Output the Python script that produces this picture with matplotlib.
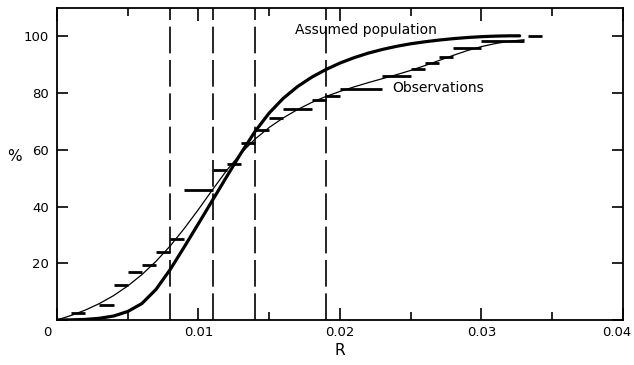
import matplotlib
matplotlib.use("Agg")
import matplotlib.pyplot as plt
import matplotlib.transforms as mtransforms
import numpy as np

# observation steps: start R, end R, cumulative percent
step_start = [0.001, 0.003, 0.004, 0.005, 0.006, 0.007, 0.008, 0.009, 0.011, 0.012,
              0.013, 0.014, 0.015, 0.016, 0.018, 0.019, 0.020, 0.023, 0.025, 0.026,
              0.027, 0.028, 0.030, 0.0333]
step_end = [0.002, 0.004, 0.005, 0.006, 0.007, 0.008, 0.009, 0.011, 0.012, 0.013,
            0.014, 0.015, 0.016, 0.018, 0.019, 0.020, 0.023, 0.025, 0.026, 0.027,
            0.028, 0.030, 0.033, 0.0343]
step_pct = [2.4, 5.3, 12.3, 16.9, 19.5, 24.0, 28.6, 46.0, 52.8, 55.0,
            62.3, 67.0, 71.1, 74.4, 77.4, 79.0, 81.6, 86.1, 88.6, 90.7,
            92.9, 95.8, 98.3, 100.0]

# smooth curve through observations (thin)
obs_r = [0.0, 0.001, 0.002, 0.003, 0.004, 0.005, 0.006, 0.007, 0.008, 0.009,
         0.010, 0.011, 0.012, 0.013, 0.014, 0.015, 0.016, 0.017, 0.018, 0.019,
         0.020, 0.021, 0.022, 0.023, 0.024, 0.025, 0.026, 0.027, 0.028, 0.029,
         0.030, 0.031, 0.032, 0.033]
obs_pct = [0.0, 1.6, 3.5, 5.8, 8.6, 12.0, 16.0, 20.7, 26.1, 32.3,
           39.0, 46.0, 52.8, 58.8, 63.8, 67.9, 71.3, 74.2, 76.7, 78.8,
           80.6, 82.2, 83.7, 85.1, 86.5, 88.0, 89.7, 91.5, 93.3, 95.0,
           96.4, 97.5, 98.3, 98.8]

# assumed population curve (thick)
pop_r = [0.0, 0.001, 0.002, 0.003, 0.004, 0.005, 0.006, 0.007, 0.008, 0.009,
         0.010, 0.011, 0.012, 0.013, 0.014, 0.015, 0.016, 0.017, 0.018, 0.019,
         0.020, 0.021, 0.022, 0.023, 0.024, 0.025, 0.026, 0.027, 0.028, 0.029,
         0.030, 0.031, 0.032, 0.0327]
pop_pct = [0.0, 0.05, 0.2, 0.6, 1.4, 3.0, 5.8, 10.8, 17.8, 25.8,
           34.0, 42.3, 50.6, 58.8, 66.5, 73.0, 78.2, 82.3, 85.6, 88.3,
           90.6, 92.5, 94.1, 95.4, 96.5, 97.4, 98.1, 98.7, 99.2, 99.6,
           99.9, 100.1, 100.2, 100.2]

vlines_r = [0.008, 0.011, 0.014, 0.019]

xticks = [0, 0.01, 0.02, 0.03, 0.04]
xtick_labels = ["", "0.01", "0.02", "0.03", "0.04"]
yticks = [0, 20, 40, 60, 80, 100]
ytick_labels = ["", "20", "40", "60", "80", "100"]


def main():
    fig = plt.figure(figsize=(6.34, 3.65), dpi=100)
    ax = fig.add_axes([0.0899, 0.1233, 0.8927, 0.8547])

    for r in vlines_r:
        ax.axvline(r, color="black", lw=1.2, dashes=(16, 4))

    ax.plot(pop_r, pop_pct, color="black", lw=2.3, solid_capstyle="round",
            solid_joinstyle="round")
    ax.plot(obs_r, obs_pct, color="black", lw=0.9)
    ax.hlines(step_pct, step_start, step_end, color="black", lw=2.0)

    ax.text(0.0168, 102.3, "Assumed population", fontsize=10, va="center", ha="left")
    ax.text(0.0237, 81.7, "Observations", fontsize=10, va="center", ha="left")

    ax.set_xlim(0, 0.04)
    ax.set_ylim(0, 110)
    ax.set_xticks(xticks)
    ax.set_xticklabels(xtick_labels)
    ax.set_xticks(np.arange(0.005, 0.04, 0.01), minor=True)
    ax.set_yticks(yticks)
    ax.set_yticklabels(ytick_labels)
    ax.tick_params(axis="x", which="major", direction="in", length=9, width=1.2,
                   top=True, labelsize=9.5, pad=4)
    ax.tick_params(axis="x", which="minor", direction="in", length=6, width=1.2, top=True)
    ax.tick_params(axis="y", which="major", direction="in", length=8, width=1.2,
                   right=True, labelsize=9.5, pad=6)
    # last x label sits a little left of its tick, as in the original
    last = ax.get_xticklabels()[-1]
    last.set_transform(last.get_transform() +
                       mtransforms.ScaledTranslation(-6 / 100, 0, fig.dpi_scale_trans))
    ax.annotate("0", (0, 0), xytext=(-7, -4), textcoords="offset points",
                ha="center", va="top", fontsize=9.5)

    for s in ax.spines.values():
        s.set_linewidth(1.3)

    ax.set_xlabel("R", fontsize=11, labelpad=3)
    ax.set_ylabel("%", fontsize=11, rotation=0, labelpad=8)
    ax.yaxis.set_label_coords(-0.075, 0.5)

    fig.savefig("out.png", dpi=100)


if __name__ == "__main__":
    main()
